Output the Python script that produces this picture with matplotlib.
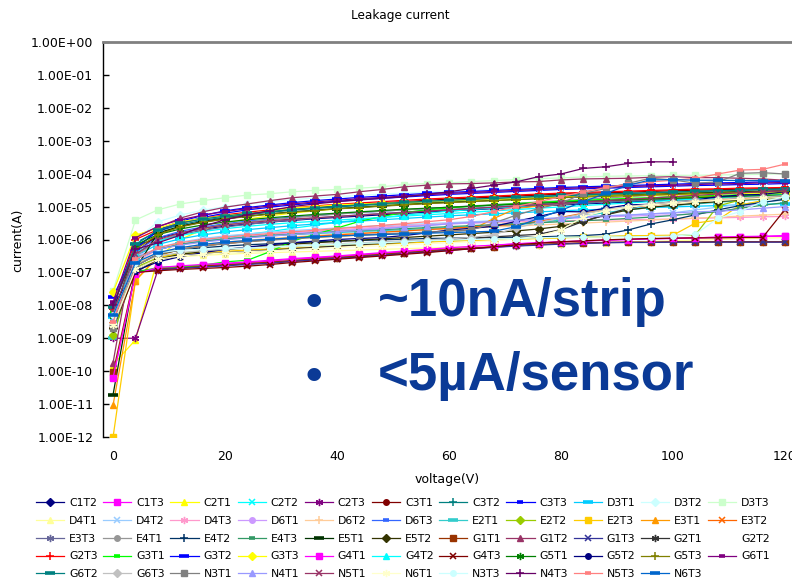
import numpy as np
import matplotlib
matplotlib.use("Agg")
import matplotlib.pyplot as plt
from matplotlib.ticker import FixedLocator, FuncFormatter, NullLocator

# bias voltage steps (V)
voltage = [0, 4, 8, 12, 16, 20, 24, 28, 32, 36, 40, 44, 48, 52, 56, 60,
           64, 68, 72, 76, 80, 84, 88, 92, 96, 100, 104, 108, 112, 116, 120]

# leakage current per sensor, stored as log10(I / A)
C1T2 = [-8.0, -6.2, -5.95, -5.8, -5.68, -5.6, -5.53, -5.47, -5.42, -5.37, -5.33, -5.29, -5.25, -5.21, -5.17, -5.13,
        -5.10, -5.06, -5.02, -4.98, -4.95, -4.92, -4.89, -4.86, -4.83, -4.80, -4.77, -4.74, -4.71, -4.69, -4.66]
C1T3 = [-10.17, -7.0, -6.88, -6.82, -6.78, -6.74, -6.70, -6.66, -6.60, -6.56, -6.52, -6.47, -6.42, -6.37, -6.32, -6.27,
        -6.22, -6.18, -6.13, -6.10, -6.07, -6.04, -6.02, -6.00, -5.98, -5.97, -5.95, -5.93, -5.92, -5.91, -5.90]
C2T1 = [-9.8, -9.05, -6.55, -6.0, -5.7, -5.5, -5.38, -5.28, -5.2, -5.13, -5.07, -5.02, -4.97, -4.93, -4.89, -4.85,
        -4.82, -4.79, -4.76, -4.73, -4.70, -4.68, -4.66, -4.63, -4.61, -4.59, -4.57, -4.55, -4.54, -4.52, -4.50]
C2T2 = [-8.3, -6.6, -6.3, -6.15, -6.02, -5.92, -5.84, -5.76, -5.66, -5.57, -5.48, -5.40, -5.33, -5.26, -5.20, -5.14,
        -5.09, -5.04, -5.00, -4.96, -4.92, -4.89, -4.86, -4.83, -4.80, -4.77, -4.74, -4.72, -4.70, -4.67, -4.65]
C2T3 = [-9.0, -9.0, -6.93, -6.86, -6.82, -6.78, -6.74, -6.70, -6.65, -6.60, -6.56, -6.51, -6.46, -6.41, -6.36, -6.31,
        -6.27, -6.23, -6.19, -6.16, -6.13, -6.11, -6.09, -6.08, -6.07, -6.07, -6.07, -6.07, -6.07, -6.07, -6.07]
C3T1 = [-8.65, -6.4, -5.85, -5.6, -5.45, -5.33, -5.24, -5.16, -5.09, -5.03, -4.98, -4.93, -4.89, -4.85, -4.81, -4.77,
        -4.74, -4.71, -4.68, -4.65, -4.62, -4.60, -4.58, -4.56, -4.54, -4.52, -4.50, -4.49, -4.47, -4.46, -4.45]
C3T2 = [-8.1, -6.1, -5.75, -5.55, -5.42, -5.32, -5.24, -5.17, -5.11, -5.06, -5.01, -4.97, -4.93, -4.89, -4.85, -4.82,
        -4.79, -4.76, -4.73, -4.70, -4.67, -4.65, -4.62, -4.60, -4.58, -4.56, -4.54, -4.52, -4.51, -4.49, -4.48]
C3T3 = [-7.95, -6.25, -5.75, -5.5, -5.33, -5.2, -5.1, -5.02, -4.95, -4.89, -4.84, -4.79, -4.75, -4.71, -4.67, -4.63,
        -4.60, -4.57, -4.54, -4.51, -4.48, -4.46, -4.44, -4.42, -4.40, -4.38, -4.36, -4.35, -4.33, -4.32, -4.30]
D3T1 = [-8.35, -6.5, -6.15, -5.98, -5.86, -5.77, -5.70, -5.64, -5.58, -5.53, -5.48, -5.44, -5.40, -5.36, -5.32, -5.28,
        -5.25, -5.22, -5.19, -5.16, -5.13, -5.10, -5.08, -5.05, -5.03, -5.01, -4.99, -4.97, -4.95, -4.93, -4.91]
D3T2 = [-8.3, -6.02, -5.46, -5.26, -5.11, -5.0, -4.92, -4.85, -4.79, -4.74, -4.70, -4.66, -4.62, -4.59, -4.56, -4.53,
        -4.50, -4.48, -4.45, -4.43, -4.41, -4.39, -4.37, -4.35, -4.34, -4.32, -4.31, -4.29, -4.28, -4.27, -4.26]
D3T3 = [-7.55, -5.41, -5.10, -4.92, -4.82, -4.73, -4.65, -4.61, -4.55, -4.51, -4.48, -4.44, -4.40, -4.33, -4.30, -4.28,
        -4.24, -4.21, -4.18, -4.15, -4.13, -4.10, -4.08, -4.07, -4.06, -4.05, -4.05, -4.04, -4.03, -4.02, -4.00]
D4T1 = [-8.6, -6.9, -6.6, -6.52, -6.48, -6.45, -6.42, -6.40, -6.38, -6.36, -6.34, -6.32, -6.30, -6.28, -6.26, -6.24,
        -6.22, -6.20, -6.18, -6.16, -6.14, -6.12, -6.10, -6.08, -6.06, -6.04, -6.02, -6.00, -5.98, -5.96, -5.94]
D4T2 = [-8.4, -6.6, -6.25, -6.08, -5.97, -5.89, -5.83, -5.78, -5.73, -5.69, -5.65, -5.61, -5.58, -5.55, -5.52, -5.49,
        -5.46, -5.43, -5.40, -5.37, -5.34, -5.31, -5.28, -5.25, -5.22, -5.19, -5.10, -5.02, -4.93, -4.86, -4.80]
D4T3 = [-8.5, -6.7, -6.3, -6.15, -6.05, -5.97, -5.9, -5.85, -5.8, -5.75, -5.71, -5.66, -5.62, -5.58, -5.55, -5.52,
        -5.50, -5.48, -5.46, -5.44, -5.43, -5.42, -5.41, -5.40, -5.39, -5.38, -5.36, -5.34, -5.33, -5.31, -5.30]
D6T1 = [-8.45, -6.5, -6.3, -6.15, -6.04, -5.97, -5.91, -5.86, -5.81, -5.77, -5.73, -5.69, -5.65, -5.61, -5.57, -5.53,
        -5.50, -5.46, -5.43, -5.40, -5.37, -5.34, -5.31, -5.29, -5.27, -5.25, -5.22, -5.16, -5.05, -4.85, -4.75]
D6T2 = [-8.55, -6.75, -6.4, -6.25, -6.15, -6.08, -6.02, -5.97, -5.92, -5.88, -5.84, -5.80, -5.77, -5.74, -5.71, -5.68,
        -5.65, -5.62, -5.59, -5.56, -5.53, -5.50, -5.47, -5.44, -5.41, -5.38, -5.35, -5.32, -5.29, -5.26, -5.23]
D6T3 = [-8.0, -6.35, -5.95, -5.75, -5.62, -5.52, -5.44, -5.38, -5.32, -5.27, -5.22, -5.18, -5.14, -5.10, -5.06, -5.02,
        -4.99, -4.96, -4.93, -4.90, -4.87, -4.84, -4.81, -4.79, -4.76, -4.74, -4.72, -4.70, -4.68, -4.66, -4.64]
E2T1 = [-9.0, -6.55, -6.3, -6.15, -6.05, -5.98, -5.93, -5.89, -5.85, -5.82, -5.79, -5.76, -5.73, -5.70, -5.67, -5.64,
        -5.61, -5.58, -5.55, -5.50, -5.40, -5.28, -5.18, -5.10, -5.03, -4.97, -4.92, -4.87, -4.82, -4.78, -4.74]
E2T2 = [-8.9, -6.85, -6.55, -6.42, -6.35, -6.30, -6.26, -6.23, -6.20, -6.17, -6.15, -6.12, -6.10, -6.08, -6.06, -6.04,
        -6.02, -6.00, -5.98, -5.96, -5.94, -5.92, -5.91, -5.90, -5.89, -5.88, -5.86, -4.98, -4.80, -4.72, -4.66]
E2T3 = [-12.0, -7.25, -6.55, -6.45, -6.4, -6.36, -6.32, -6.29, -6.26, -6.23, -6.20, -6.17, -6.14, -6.11, -6.08, -6.05,
        -6.03, -6.01, -5.99, -5.97, -5.95, -5.93, -5.91, -5.89, -5.88, -5.87, -5.50, -5.41, -4.95, -4.82, -4.72]
E3T1 = [-11.03, -7.25, -6.5, -6.3, -6.2, -6.12, -6.06, -6.01, -5.97, -5.93, -5.90, -5.87, -5.84, -5.81, -5.78, -5.75,
        -5.71, -5.36, -5.06, -4.98, -4.93, -4.88, -4.84, -4.80, -4.77, -4.74, -4.71, -4.68, -4.66, -4.63, -4.61]
E3T2 = [-8.6, -6.8, -6.45, -6.3, -6.2, -6.12, -6.06, -6.0, -5.95, -5.9, -5.86, -5.82, -5.78, -5.74, -5.70, -5.66,
        -5.62, -5.58, -5.54, -5.45, -5.33, -5.20, -5.10, -5.02, -4.96, -4.90, -4.85, -4.80, -4.76, -4.72, -4.68]
E3T3 = [-8.25, -6.45, -6.05, -5.85, -5.72, -5.62, -5.54, -5.47, -5.41, -5.35, -5.30, -5.25, -5.21, -5.17, -5.13, -5.09,
        -5.05, -5.02, -4.98, -4.95, -4.92, -4.89, -4.86, -4.83, -4.80, -4.78, -4.75, -4.73, -4.71, -4.69, -4.67]
E4T1 = [-8.3, -6.5, -6.05, -5.82, -5.66, -5.55, -5.47, -5.40, -5.34, -5.28, -5.23, -5.18, -5.14, -5.10, -5.06, -5.02,
        -4.98, -4.94, -4.90, -4.86, -4.82, -4.78, -4.74, -4.70, -4.66, -4.63, -4.60, -4.57, -4.55, -4.52, -4.50]
E4T2 = [-8.1, -6.8, -6.45, -6.32, -6.25, -6.2, -6.16, -6.13, -6.10, -6.07, -6.05, -6.03, -6.01, -5.99, -5.97, -5.96,
        -5.95, -5.94, -5.93, -5.92, -5.90, -5.88, -5.84, -5.71, -5.53, -5.40, -5.25, -5.10, -4.97, -4.87, -4.78]
E4T3 = [-8.5, -6.6, -6.3, -6.15, -6.06, -5.99, -5.93, -5.88, -5.84, -5.80, -5.76, -5.73, -5.70, -5.67, -5.64, -5.61,
        -5.58, -5.55, -5.52, -5.49, -5.46, -5.43, -5.40, -5.36, -5.32, -5.27, -5.21, -5.15, -5.05, -4.96, -4.88]
E5T1 = [-10.71, -6.9, -5.8, -5.6, -5.47, -5.37, -5.29, -5.22, -5.16, -5.11, -5.06, -5.02, -4.98, -4.94, -4.90, -4.87,
        -4.84, -4.81, -4.78, -4.75, -4.72, -4.70, -4.67, -4.65, -4.63, -4.61, -4.59, -4.57, -4.55, -4.54, -4.52]
E5T2 = [-8.7, -7.0, -6.6, -6.45, -6.37, -6.3, -6.24, -6.19, -6.14, -6.10, -6.06, -6.02, -5.98, -5.94, -5.90, -5.86,
        -5.82, -5.78, -5.74, -5.68, -5.60, -5.45, -5.25, -5.10, -5.02, -4.96, -4.90, -4.85, -4.80, -4.76, -4.72]
G1T1 = [-10.03, -7.0, -6.9, -6.85, -6.8, -6.77, -6.73, -6.69, -6.64, -6.59, -6.55, -6.50, -6.45, -6.40, -6.35, -6.30,
        -6.26, -6.22, -6.18, -6.15, -6.12, -6.10, -6.09, -6.08, -6.08, -6.07, -6.07, -6.07, -6.07, -6.07, -6.07]
G1T2 = [-9.74, -5.9, -5.63, -5.35, -5.16, -5.02, -4.92, -4.82, -4.73, -4.68, -4.63, -4.55, -4.48, -4.40, -4.35, -4.31,
        -4.30, -4.28, -4.25, -4.24, -4.19, -4.16, -4.15, -4.14, -4.11, -4.09, -4.12, -4.12, -4.14, -4.16, -4.20]
G1T3 = [-8.3, -6.95, -6.92, -6.88, -6.84, -6.80, -6.76, -6.72, -6.67, -6.62, -6.58, -6.53, -6.48, -6.43, -6.38, -6.33,
        -6.28, -6.24, -6.20, -6.17, -6.14, -6.12, -6.10, -6.09, -6.09, -6.08, -6.08, -6.08, -6.08, -6.08, -6.08]
G2T1 = [-8.5, -6.9, -6.6, -6.5, -6.44, -6.4, -6.36, -6.32, -6.28, -6.24, -6.20, -6.16, -6.12, -6.08, -6.04, -6.00,
        -5.96, -5.92, -5.88, -5.84, -5.70, -5.45, -5.25, -5.05, -4.92, -4.85, -4.80, -4.76, -4.72, -4.68, -4.65]
G2T2 = []
G2T3 = [-8.1, -6.0, -5.7, -5.5, -5.36, -5.25, -5.17, -5.1, -5.04, -4.98, -4.93, -4.89, -4.85, -4.81, -4.77, -4.74,
        -4.71, -4.68, -4.65, -4.62, -4.59, -4.57, -4.55, -4.53, -4.51, -4.49, -4.47, -4.46, -4.44, -4.43, -4.42]
G3T1 = [-8.2, -7.0, -6.85, -6.82, -6.78, -6.68, -6.63, -6.37, -6.05, -5.85, -5.65, -5.45, -5.30, -5.18, -5.10, -5.04,
        -4.99, -4.95, -4.91, -4.87, -4.84, -4.81, -4.78, -4.75, -4.73, -4.70, -4.68, -4.66, -4.64, -4.62, -4.60]
G3T2 = [-7.75, -6.3, -5.7, -5.45, -5.27, -5.13, -5.03, -4.95, -4.88, -4.82, -4.77, -4.72, -4.68, -4.64, -4.60, -4.57,
        -4.54, -4.51, -4.48, -4.45, -4.42, -4.40, -4.38, -4.36, -4.34, -4.32, -4.30, -4.28, -4.27, -4.25, -4.24]
G3T3 = [-7.6, -5.87, -5.66, -5.46, -5.36, -5.28, -5.21, -5.14, -5.04, -5.0, -4.95, -4.92, -4.90, -4.87, -4.85, -4.82,
        -4.80, -4.78, -4.76, -4.74, -4.72, -4.70, -4.68, -4.67, -4.65, -4.64, -4.62, -4.61, -4.60, -4.59, -4.58]
G4T1 = [-10.2, -7.05, -6.85, -6.8, -6.76, -6.72, -6.68, -6.63, -6.58, -6.54, -6.50, -6.45, -6.40, -6.35, -6.30, -6.25,
        -6.21, -6.17, -6.13, -6.10, -6.07, -6.05, -6.02, -6.00, -5.98, -5.96, -5.95, -5.93, -5.91, -5.90, -5.88]
G4T2 = [-8.35, -6.4, -6.05, -5.88, -5.76, -5.67, -5.6, -5.54, -5.49, -5.45, -5.41, -5.37, -5.33, -5.29, -5.25, -5.21,
        -5.17, -5.13, -5.09, -5.05, -5.01, -4.97, -4.93, -4.89, -4.85, -4.81, -4.77, -4.73, -4.70, -4.67, -4.64]
G4T3 = [-8.6, -7.0, -6.95, -6.91, -6.88, -6.85, -6.81, -6.76, -6.70, -6.65, -6.60, -6.55, -6.50, -6.45, -6.40, -6.34,
        -6.28, -6.22, -6.16, -6.11, -6.07, -6.04, -6.01, -5.99, -5.97, -5.96, -5.95, -5.95, -5.94, -5.94, -5.09]
G5T1 = [-8.4, -6.17, -5.85, -5.68, -5.56, -5.47, -5.4, -5.34, -5.29, -5.24, -5.2, -5.16, -5.12, -5.08, -5.05, -5.02,
        -4.99, -4.96, -4.93, -4.90, -4.87, -4.84, -4.82, -4.79, -4.77, -4.75, -4.73, -4.71, -4.69, -4.67, -4.65]
G5T2 = [-8.0, -6.95, -6.68, -6.52, -6.4, -6.3, -6.23, -6.16, -6.1, -6.05, -6.0, -5.97, -5.94, -5.88, -5.80, -5.71,
        -5.66, -5.60, -5.45, -5.30, -5.15, -5.16, -5.05, -4.95, -4.93, -4.90, -4.80, -4.70, -4.65, -4.63, -4.55]
G5T3 = [-8.0, -6.3, -5.85, -5.62, -5.48, -5.38, -5.3, -5.23, -5.17, -5.12, -5.07, -5.03, -4.99, -4.95, -4.91, -4.88,
        -4.85, -4.82, -4.79, -4.76, -4.73, -4.71, -4.69, -4.67, -4.65, -4.63, -4.61, -4.59, -4.57, -4.56, -4.54]
G6T1 = [-7.9, -5.95, -5.6, -5.4, -5.26, -5.15, -5.06, -4.98, -4.92, -4.86, -4.81, -4.76, -4.72, -4.68, -4.64, -4.60,
        -4.57, -4.54, -4.51, -4.48, -4.45, -4.43, -4.41, -4.39, -4.37, -4.35, -4.33, -4.31, -4.30, -4.28, -4.27]
G6T2 = [-8.05, -6.15, -5.72, -5.5, -5.38, -5.29, -5.21, -5.15, -5.09, -5.04, -4.99, -4.95, -4.91, -4.87, -4.84, -4.81,
        -4.78, -4.75, -4.72, -4.69, -4.66, -4.64, -4.62, -4.60, -4.58, -4.56, -4.54, -4.52, -4.50, -4.48, -4.46]
G6T3 = [-8.6, -6.75, -6.5, -6.4, -6.34, -6.3, -6.26, -6.22, -6.19, -6.16, -6.13, -6.10, -6.07, -6.04, -6.01, -5.98,
        -5.94, -5.85, -5.65, -5.48, -5.35, -5.22, -5.10, -5.00, -4.92, -4.86, -4.81, -4.77, -4.73, -4.70, -4.67]
N3T1 = [-8.7, -6.8, -6.45, -6.3, -6.2, -6.13, -6.07, -6.02, -5.98, -5.94, -5.90, -5.86, -5.83, -5.80, -5.78, -5.75,
        -5.71, -5.50, -5.26, -5.06, -4.90, -4.60, -4.45, -4.29, -4.14, -4.19, -4.29, -4.25, -3.99, -3.97, -4.01]
N4T1 = [-8.4, -6.6, -6.3, -6.17, -6.08, -6.01, -5.95, -5.9, -5.85, -5.81, -5.77, -5.72, -5.68, -5.62, -5.58, -5.52,
        -5.48, -5.46, -5.42, -5.38, -5.34, -5.31, -5.28, -5.26, -5.22, -5.19, -5.16, -5.14, -5.10, -5.05, -5.00]
N5T1 = [-8.2, -6.45, -6.0, -5.8, -5.66, -5.56, -5.49, -5.43, -5.38, -5.34, -5.30, -5.26, -5.22, -5.18, -5.14, -5.10,
        -5.06, -5.02, -4.98, -4.94, -4.90, -4.86, -4.82, -4.78, -4.74, -4.70, -4.66, -4.62, -4.58, -4.55, -4.52]
N6T1 = [-8.6, -6.9, -6.6, -6.5, -6.45, -6.41, -6.37, -6.34, -6.31, -6.28, -6.25, -6.22, -6.19, -6.16, -6.13, -6.10,
        -6.07, -6.04, -5.98, -5.90, -5.71, -5.31, -5.12, -5.02, -4.95, -4.90, -4.85, -4.81, -4.78, -4.75, -4.72]
N3T3 = [-8.3, -6.7, -6.4, -6.32, -6.30, -6.27, -6.26, -6.23, -6.20, -6.17, -6.15, -6.12, -6.10, -6.07, -6.04, -6.02,
        -6.00, -5.99, -5.97, -5.95, -5.93, -5.93, -5.92, -5.92, -5.91, -5.90, -5.84, -5.36, -5.15, -4.85, -4.70]
N4T3 = [-8.0, -6.3, -6.1, -5.87, -5.6, -5.4, -5.25, -5.12, -5.0, -4.92, -4.85, -4.80, -4.75, -4.70, -4.63, -4.55,
        -4.45, -4.35, -4.25, -4.09, -4.01, -3.84, -3.79, -3.69, -3.64, -3.64]
N5T3 = [-8.5, -6.6, -6.25, -6.1, -6.0, -5.93, -5.87, -5.82, -5.77, -5.72, -5.67, -5.62, -5.57, -5.52, -5.46, -5.40,
        -5.30, -5.15, -5.00, -4.85, -4.70, -4.55, -4.42, -4.32, -4.25, -4.20, -4.14, -4.01, -3.89, -3.87, -3.71]
N6T3 = [-8.3, -6.7, -6.4, -6.25, -6.15, -6.08, -6.03, -5.99, -5.95, -5.92, -5.89, -5.87, -5.85, -5.83, -5.81, -5.79,
        -5.77, -5.75, -5.61, -5.36, -5.11, -4.85, -4.60, -4.35, -4.19, -4.18, -4.20, -4.20, -4.21, -4.21, -4.22]

series = [
    ("C1T2", C1T2, "#000080", "diamond"), ("C1T3", C1T3, "#ff00ff", "square"),
    ("C2T1", C2T1, "#ffff00", "triangle"), ("C2T2", C2T2, "#00ffff", "x"),
    ("C2T3", C2T3, "#800080", "star"), ("C3T1", C3T1, "#800000", "circle"),
    ("C3T2", C3T2, "#008080", "plus"), ("C3T3", C3T3, "#0000ff", "dash"),
    ("D3T1", D3T1, "#00ccff", "longdash"), ("D3T2", D3T2, "#ccffff", "diamond"),
    ("D3T3", D3T3, "#ccffcc", "square"), ("D4T1", D4T1, "#ffff99", "triangle"),
    ("D4T2", D4T2, "#99ccff", "x"), ("D4T3", D4T3, "#ff99cc", "star"),
    ("D6T1", D6T1, "#cc99ff", "circle"), ("D6T2", D6T2, "#ffcc99", "plus"),
    ("D6T3", D6T3, "#3366ff", "dash"), ("E2T1", E2T1, "#33cccc", "longdash"),
    ("E2T2", E2T2, "#99cc00", "diamond"), ("E2T3", E2T3, "#ffcc00", "square"),
    ("E3T1", E3T1, "#ff9900", "triangle"), ("E3T2", E3T2, "#ff6600", "x"),
    ("E3T3", E3T3, "#666699", "star"), ("E4T1", E4T1, "#969696", "circle"),
    ("E4T2", E4T2, "#003366", "plus"), ("E4T3", E4T3, "#339966", "dash"),
    ("E5T1", E5T1, "#003300", "longdash"), ("E5T2", E5T2, "#333300", "diamond"),
    ("G1T1", G1T1, "#993300", "square"), ("G1T2", G1T2, "#993366", "triangle"),
    ("G1T3", G1T3, "#333399", "x"), ("G2T1", G2T1, "#333333", "star"),
    ("G2T2", G2T2, "none", "none"), ("G2T3", G2T3, "#ff0000", "plus"),
    ("G3T1", G3T1, "#00ff00", "dash"), ("G3T2", G3T2, "#0000ff", "longdash"),
    ("G3T3", G3T3, "#ffff00", "diamond"), ("G4T1", G4T1, "#ff00ff", "square"),
    ("G4T2", G4T2, "#00ffff", "triangle"), ("G4T3", G4T3, "#800000", "x"),
    ("G5T1", G5T1, "#008000", "star"), ("G5T2", G5T2, "#000080", "circle"),
    ("G5T3", G5T3, "#808000", "plus"), ("G6T1", G6T1, "#800080", "dash"),
    ("G6T2", G6T2, "#008080", "longdash"), ("G6T3", G6T3, "#c0c0c0", "diamond"),
    ("N3T1", N3T1, "#808080", "square"), ("N4T1", N4T1, "#9999ff", "triangle"),
    ("N5T1", N5T1, "#993366", "x"), ("N6T1", N6T1, "#ffffcc", "star"),
    ("N3T3", N3T3, "#ccffff", "circle"), ("N4T3", N4T3, "#660066", "plus"),
    ("N5T3", N5T3, "#ff8080", "dash"), ("N6T3", N6T3, "#0066cc", "longdash"),
]

markers = {
    "diamond": dict(marker="D", ms=3.8),
    "square": dict(marker="s", ms=4.0),
    "triangle": dict(marker="^", ms=4.5),
    "x": dict(marker="x", ms=4.5, mew=1.1),
    "star": dict(marker=(6, 2, 0), ms=5.2, mew=1.0),
    "circle": dict(marker="o", ms=4.0),
    "plus": dict(marker="+", ms=5.8, mew=1.1),
    "dash": dict(marker="_", ms=4.2, mew=2.6),
    "longdash": dict(marker="_", ms=6.5, mew=2.6),
    "none": dict(marker="None", linestyle="None"),
}

W, H = 792, 582
fig = plt.figure(figsize=(W / 100, H / 100), dpi=100)
fig.patch.set_facecolor("white")

# axes box in pixel terms: left edge 103, top 42, bottom 437, open to the right
ax = fig.add_axes([103 / W, 1 - 437 / H, 1 - 103 / W, (437 - 42) / H])

handles = []
for name, logi, color, mk in series:
    v = voltage[:len(logi)]
    cur = 10.0 ** np.array(logi, dtype=float)
    h, = ax.plot(v, cur, color=color, lw=0.9, label=name, zorder=2, **markers[mk])
    handles.append(h)

ax.set_yscale("log")
ax.set_ylim(1e-12, 1.0)
ax.set_xlim(-1.8, 121.25)
decades = [10.0 ** -k for k in range(0, 13)]
ax.yaxis.set_major_locator(FixedLocator(decades))
ax.yaxis.set_minor_locator(NullLocator())
ax.yaxis.set_major_formatter(FuncFormatter(lambda y, p: f"{y:.2E}"))
ax.set_xticks([0, 20, 40, 60, 80, 100, 120])
ax.tick_params(axis="y", direction="in", length=4, width=1, labelsize=9, pad=7)
ax.tick_params(axis="x", length=0, labelsize=9, pad=9)

for side in ("bottom", "right"):
    ax.spines[side].set_visible(False)
ax.spines["top"].set_color("#808080")
ax.spines["top"].set_linewidth(2)
ax.spines["left"].set_color("black")
ax.spines["left"].set_linewidth(1)

fig.text(400 / W, 1 - 15 / H, "Leakage current", ha="center", va="center", fontsize=8.7)
fig.text(18 / W, 1 - 240 / H, "current(A)", ha="center", va="center", rotation=90, fontsize=9)
fig.text(447 / W, 1 - 480 / H, "voltage(V)", ha="center", va="center", fontsize=9)

# summary overlay
blue = "#0b3a96"
for yb, txt in ((316, "~10nA/strip"), (390, "<5\u00b5A/sensor")):
    fig.text(314 / W, 1 - yb / H, "\u2022", ha="center", va="baseline", fontsize=34,
             color=blue, family="Liberation Sans", weight="bold")
    fig.text(378 / W, 1 - yb / H, txt, ha="left", va="baseline", fontsize=38,
             color=blue, family="Liberation Sans", weight="bold")

# legend laid out row by row, 11 per row
ncol, nrow = 11, 5
order = [r * ncol + c for c in range(ncol) for r in range(nrow) if r * ncol + c < len(handles)]
fig.legend([handles[i] for i in order], [series[i][0] for i in order],
           loc="upper left", bbox_to_anchor=(36 / W, 1 - 498 / H), ncol=ncol,
           frameon=False, fontsize=7.8, handlelength=2.6, handletextpad=0.45,
           columnspacing=0.51, labelspacing=0.72, borderpad=0, borderaxespad=0)

fig.savefig("out.png", dpi=100, facecolor="white")
